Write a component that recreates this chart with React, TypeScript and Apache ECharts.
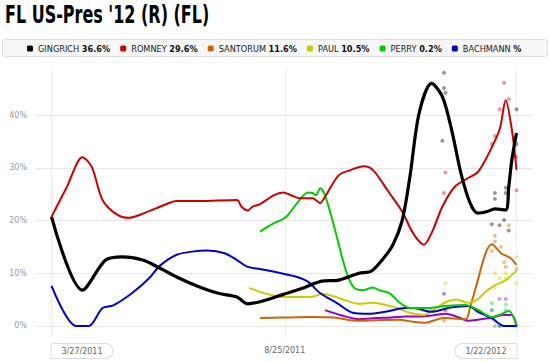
import React, { useEffect, useRef } from 'react';
import * as echarts from 'echarts';

const DAY = 86400000;
function toTime(s: string): number {
  const [y, m, d] = s.split('-').map(Number);
  return new Date(y, m - 1, d).getTime();
}

const titleText = "FL US-Pres '12 (R) (FL)";
const candidates = ['GINGRICH', 'ROMNEY', 'SANTORUM', 'PAUL', 'PERRY', 'BACHMANN'];
const latestValues = ['36.6%', '29.6%', '11.6%', '10.5%', '0.2%', '%'];
const colors = ['#000000', '#cc0000', '#cc6600', '#cccc00', '#00cc00', '#0000cc'];
const otherName = 'HUNTSMAN';
const otherColor = '#9900cc';
const xTickDates = ['2011-03-27', '2011-08-25', '2012-01-22'];
const xTickLabels = ['3/27/2011', '8/25/2011', '1/22/2012'];
const yTickValues = [0, 10, 20, 30, 40];

const gingrich: [string, number][] = [
  ['2011-03-27', 20.7], ['2011-04-16', 6.8], ['2011-05-01', 12.5], ['2011-05-12', 13.1],
  ['2011-05-25', 12.5], ['2011-06-05', 11.0], ['2011-06-16', 9.3], ['2011-06-30', 7.5],
  ['2011-07-13', 6.2], ['2011-07-25', 5.5], ['2011-08-01', 4.2], ['2011-08-09', 4.6],
  ['2011-08-24', 6.0], ['2011-09-04', 7.0], ['2011-09-18', 8.5], ['2011-09-29', 8.7],
  ['2011-10-12', 10.0], ['2011-10-20', 10.4], ['2011-10-27', 12.5], ['2011-11-03', 15.4],
  ['2011-11-09', 20.0], ['2011-11-14', 28.3], ['2011-11-20', 40.4], ['2011-11-28', 46.0],
  ['2011-12-05', 43.5], ['2011-12-11', 37.2], ['2011-12-17', 29.0], ['2011-12-23', 23.3],
  ['2011-12-28', 21.4], ['2012-01-03', 21.7], ['2012-01-08', 22.2], ['2012-01-15', 22.0],
  ['2012-01-17', 26.4], ['2012-01-19', 31.5], ['2012-01-22', 36.6],
];
const romney: [string, number][] = [
  ['2011-03-27', 20.7], ['2011-04-06', 26.4], ['2011-04-16', 32.0], ['2011-04-22', 30.2],
  ['2011-04-29', 23.9], ['2011-05-08', 21.2], ['2011-05-16', 20.5], ['2011-05-26', 21.4],
  ['2011-06-06', 22.7], ['2011-06-16', 23.7], ['2011-06-30', 23.7], ['2011-07-25', 23.9],
  ['2011-07-28', 22.6], ['2011-08-01', 21.9], ['2011-08-04', 22.6], ['2011-08-09', 23.1],
  ['2011-08-18', 24.8], ['2011-08-24', 25.3], ['2011-08-29', 24.8], ['2011-09-04', 24.2],
  ['2011-09-12', 24.2], ['2011-09-17', 23.3], ['2011-09-20', 24.5], ['2011-09-29', 28.6],
  ['2011-10-07', 29.6], ['2011-10-15', 30.3], ['2011-10-21', 29.6], ['2011-10-31', 25.5],
  ['2011-11-09', 21.7], ['2011-11-16', 17.6], ['2011-11-23', 15.4], ['2011-11-28', 17.6],
  ['2011-12-05', 22.6], ['2011-12-13', 26.4], ['2011-12-22', 28.1], ['2011-12-28', 29.2],
  ['2012-01-03', 32.1], ['2012-01-11', 37.2], ['2012-01-15', 42.8], ['2012-01-19', 37.2],
  ['2012-01-22', 29.6],
];
const santorum: [string, number][] = [
  ['2011-08-09', 1.5], ['2011-08-24', 1.6], ['2011-09-11', 1.7], ['2011-09-26', 1.6],
  ['2011-10-10', 1.0], ['2011-10-23', 1.1], ['2011-11-07', 1.2], ['2011-11-16', 0.8],
  ['2011-11-24', 0.6], ['2011-12-01', 1.2], ['2011-12-07', 1.5], ['2011-12-20', 1.3],
  ['2011-12-23', 3.6], ['2011-12-28', 8.7], ['2012-01-02', 13.8], ['2012-01-06', 15.5],
  ['2012-01-12', 13.8], ['2012-01-18', 12.9], ['2012-01-22', 11.6],
];
const paul: [string, number][] = [
  ['2011-08-02', 7.2], ['2011-08-24', 5.5], ['2011-09-04', 5.5], ['2011-09-13', 5.6],
  ['2011-09-18', 6.1], ['2011-09-26', 5.6], ['2011-10-04', 4.8], ['2011-10-12', 4.2],
  ['2011-10-21', 4.4], ['2011-10-29', 4.0], ['2011-11-04', 3.6], ['2011-11-09', 3.0],
  ['2011-11-14', 2.5], ['2011-11-23', 2.1], ['2011-11-28', 2.8], ['2011-12-07', 4.5],
  ['2011-12-14', 5.0], ['2011-12-22', 4.4], ['2011-12-28', 5.1], ['2012-01-02', 6.5],
  ['2012-01-08', 7.7], ['2012-01-15', 8.7], ['2012-01-22', 10.5],
];
const perry: [string, number][] = [
  ['2011-08-09', 17.9], ['2011-08-18', 19.5], ['2011-08-24', 20.3], ['2011-08-27', 21.0],
  ['2011-09-02', 23.3], ['2011-09-09', 25.3], ['2011-09-12', 25.2], ['2011-09-14', 24.8],
  ['2011-09-17', 26.1], ['2011-09-20', 24.8], ['2011-09-26', 18.8], ['2011-10-01', 13.1],
  ['2011-10-05', 9.3], ['2011-10-09', 7.2], ['2011-10-15', 6.8], ['2011-10-21', 7.3],
  ['2011-10-25', 6.8], ['2011-11-01', 6.2], ['2011-11-07', 4.5], ['2011-11-14', 3.4],
  ['2011-11-24', 3.4], ['2011-12-07', 3.8], ['2011-12-20', 4.0], ['2011-12-28', 3.1],
  ['2012-01-06', 1.7], ['2012-01-14', 2.5], ['2012-01-17', 2.9], ['2012-01-22', 0.2],
];
const bachmann: [string, number][] = [
  ['2011-03-27', 7.6], ['2011-04-12', 0], ['2011-04-20', 0], ['2011-04-29', 3.4],
  ['2011-05-06', 3.9], ['2011-05-18', 6.2], ['2011-05-29', 9.0], ['2011-06-05', 11.4],
  ['2011-06-16', 13.5], ['2011-06-26', 14.1], ['2011-07-06', 14.3], ['2011-07-17', 13.8],
  ['2011-07-25', 12.5], ['2011-08-01', 11.2], ['2011-08-09', 10.8], ['2011-08-24', 9.9],
  ['2011-09-02', 9.3], ['2011-09-09', 8.4], ['2011-09-17', 6.2], ['2011-09-28', 4.3],
  ['2011-10-08', 2.5], ['2011-10-18', 2.3], ['2011-10-29', 2.7], ['2011-11-11', 3.4],
  ['2011-11-16', 3.4], ['2011-11-28', 2.7], ['2011-12-10', 3.5], ['2011-12-22', 3.8],
  ['2011-12-28', 2.7], ['2012-01-06', 1.5], ['2012-01-14', 0], ['2012-01-22', 0],
];
const other: [string, number][] = [
  ['2011-09-20', 3.0], ['2011-10-02', 1.9], ['2011-10-12', 1.3], ['2011-10-23', 1.5],
  ['2011-11-02', 1.6], ['2011-11-11', 1.8], ['2011-11-18', 1.8], ['2011-11-28', 2.0],
  ['2011-12-07', 2.3], ['2011-12-14', 1.8], ['2011-12-22', 1.0], ['2011-12-28', 1.2],
  ['2012-01-06', 1.6], ['2012-01-14', 2.1], ['2012-01-19', 2.1], ['2012-01-22', 0],
];

const gingrichPolls: [string, number][] = [
  ['2011-12-06', 48.0], ['2011-12-06', 45.1], ['2011-12-07', 44.2], ['2011-12-05', 35.1],
  ['2012-01-08', 25.2], ['2012-01-08', 24.1], ['2012-01-15', 25.2], ['2012-01-15', 26.2],
  ['2012-01-22', 41.1], ['2012-01-22', 34.5], ['2012-01-06', 19.3], ['2012-01-11', 19.1],
  ['2012-01-14', 20.1], ['2012-01-17', 18.1],
];
const romneyPolls: [string, number][] = [
  ['2012-01-14', 46.1], ['2012-01-17', 43.0], ['2012-01-11', 41.1], ['2012-01-08', 36.0],
  ['2012-01-06', 34.5], ['2012-01-22', 32.1], ['2012-01-22', 25.7], ['2011-12-07', 29.1],
  ['2011-12-06', 25.2],
];
const santorumPolls: [string, number][] = [
  ['2012-01-17', 19.1], ['2012-01-08', 17.1], ['2012-01-08', 16.0], ['2012-01-06', 14.2],
  ['2012-01-12', 15.0], ['2012-01-14', 12.1], ['2012-01-15', 11.2], ['2012-01-22', 10.8],
  ['2011-12-06', 1.0],
];
const paulPolls: [string, number][] = [
  ['2012-01-22', 13.1], ['2012-01-22', 8.1], ['2012-01-08', 10.0], ['2012-01-08', 7.2],
  ['2012-01-11', 9.1], ['2012-01-15', 9.1], ['2012-01-15', 10.0], ['2011-12-07', 8.1],
  ['2011-12-06', 4.0],
];
const perryPolls: [string, number][] = [
  ['2012-01-06', 4.3], ['2012-01-15', 4.1], ['2012-01-15', 3.0], ['2012-01-08', 0],
  ['2012-01-22', 0],
];
const bachmannPolls: [string, number][] = [
  ['2012-01-06', 3.0], ['2011-12-06', 6.1], ['2011-12-07', 3.0], ['2012-01-11', 0],
];
const otherPolls: [string, number][] = [['2012-01-11', 5.1], ['2012-01-15', 5.1]];

const FONT = "'DejaVu Sans', sans-serif";

export default function App() {
  const ref = useRef<HTMLDivElement>(null);
  useEffect(() => {
    document.body.style.margin = '0';
    const chart = echarts.init(ref.current!, null, { renderer: 'svg' });
    const toData = (arr: [string, number][]) => arr.map(([d, v]) => [toTime(d), v]);
    const trend = [gingrich, romney, santorum, paul, perry, bachmann];
    const polls = [gingrichPolls, romneyPolls, santorumPolls, paulPolls, perryPolls, bachmannPolls];
    const xTicks = xTickDates.map(toTime);

    const lineSeries: any[] = [];
    const scatterSeries: any[] = [];
    polls.forEach((p, i) => {
      scatterSeries.push({
        name: candidates[i] + ' polls', type: 'scatter', data: toData(p), symbolSize: 4,
        itemStyle: { color: colors[i], opacity: 0.4 }, z: 1, silent: true,
      });
    });
    scatterSeries.push({
      name: otherName + ' polls', type: 'scatter', data: toData(otherPolls), symbolSize: 4,
      itemStyle: { color: otherColor, opacity: 0.4 }, z: 1, silent: true,
    });
    lineSeries.push({
      name: otherName, type: 'line', data: toData(other), showSymbol: false, smooth: 0.3,
      lineStyle: { color: otherColor, width: 2 }, itemStyle: { color: otherColor }, z: 2,
    });
    const drawOrder = [2, 3, 5, 4, 1, 0];
    drawOrder.forEach((i) => {
      lineSeries.push({
        name: candidates[i], type: 'line', data: toData(trend[i]), showSymbol: false, smooth: 0.3,
        lineStyle: { color: colors[i], width: i === 0 ? 3.2 : 2 }, itemStyle: { color: colors[i] },
        z: 3 + (i === 0 ? 2 : 0),
      });
    });

    const boxBase = {
      width: 51, padding: [3, 5, 3, 5], borderColor: '#dddddd', borderWidth: 1,
      backgroundColor: '#ffffff', color: '#666666', fontSize: 8, fontFamily: FONT, lineHeight: 11,
    };

    chart.setOption({
      animation: false,
      textStyle: { fontFamily: FONT },
      graphic: [
        {
          type: 'text', x: 5, y: 2, scaleX: 0.64, z: 10,
          style: { text: titleText, fontFamily: FONT, fontWeight: 'bold', fontSize: 25, fill: '#000', verticalAlign: 'top' },
        },
        {
          type: 'rect', shape: { x: 2.5, y: 39.5, width: 545, height: 17, r: 3 }, z: 0,
          style: { fill: '#f6f6f6', stroke: '#dddddd', lineWidth: 1 },
        },
      ],
      legend: {
        data: candidates, left: 27, top: 43, width: 515, padding: 0,
        icon: 'roundRect', itemWidth: 6, itemHeight: 6,
        itemGap: 10, selectedMode: false, z: 5,
        formatter: (name: string) => `{n|${name}} {v|${latestValues[candidates.indexOf(name)]}}`,
        textStyle: {
          fontFamily: FONT, fontSize: 8.2, color: '#222', lineHeight: 11,
          rich: {
            n: { fontFamily: FONT, fontSize: 8.2, color: '#222' },
            v: { fontFamily: FONT, fontSize: 8.2, color: '#111', fontWeight: 'bold' },
          },
        },
      },
      grid: { left: 35, right: 3, top: 67, bottom: 25, containLabel: false },
      xAxis: {
        type: 'value',
        min: xTicks[0] - 10.7 * DAY,
        max: xTicks[2] + 10.7 * DAY,
        axisLine: { show: false },
        axisTick: { show: false, customValues: xTicks },
        splitLine: { show: true, lineStyle: { color: '#eeeeee', width: 1 } },
        axisLabel: {
          customValues: xTicks, margin: 7, hideOverlap: false,
          formatter: (v: number) => {
            const i = xTicks.findIndex((x) => Math.abs(x - v) < DAY / 2);
            if (i === 0) return `{sp|}{boxL|${xTickLabels[0]}}`;
            if (i === 2) return `{boxR|${xTickLabels[2]}}{sp|}`;
            return i >= 0 ? `{plain|${xTickLabels[i]}}` : '';
          },
          rich: {
            sp: { width: 61 },
            boxL: { ...boxBase, align: 'left', borderRadius: [0, 8, 8, 0] },
            boxR: { ...boxBase, align: 'right', borderRadius: [8, 0, 0, 8] },
            plain: { padding: [3, 0, 3, 0], color: '#666666', fontSize: 8, fontFamily: FONT, lineHeight: 11 },
          },
        },
      },
      yAxis: {
        type: 'value', min: -2.275, max: 49.1,
        axisLine: { show: false },
        axisTick: { show: false, customValues: yTickValues },
        splitLine: { show: true, lineStyle: { color: '#e6e6e6', width: 1 } },
        axisLabel: {
          customValues: yTickValues, margin: 8, color: '#999999', fontSize: 8, fontFamily: FONT,
          formatter: (v: number) => `${v}%`,
        },
      },
      series: [...scatterSeries, ...lineSeries],
    });
    return () => chart.dispose();
  }, []);
  return <div ref={ref} style={{ position: 'absolute', left: 0, top: 0, width: 550, height: 363 }} />;
}
